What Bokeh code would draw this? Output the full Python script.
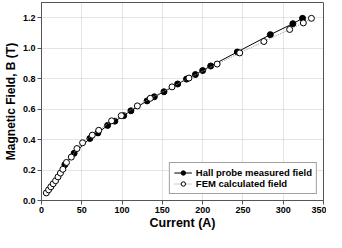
from bokeh.plotting import figure
from bokeh.models import Range1d, FixedTicker
from bokeh.embed import file_html
from bokeh.resources import INLINE

# Hall probe measured field
hall_current = [29, 40.5, 60, 70, 82, 91, 102, 111, 131, 140, 152, 169, 180, 191, 200, 210, 243, 284, 312, 324]
hall_field = [0.235, 0.31, 0.407, 0.444, 0.493, 0.521, 0.557, 0.589, 0.654, 0.681, 0.714, 0.765,
              0.797, 0.827, 0.853, 0.883, 0.975, 1.089, 1.161, 1.196]

# FEM calculated field
fem_current = [6, 8.8, 11.6, 14.5, 17.5, 20.5, 23.5, 26.5, 31, 37, 44, 51, 63, 71, 87, 99, 119, 135,
               162, 183, 218, 246, 276, 308, 325, 335]
fem_field = [0.05, 0.07, 0.09, 0.11, 0.13, 0.155, 0.18, 0.205, 0.25, 0.285, 0.341, 0.379, 0.429,
             0.461, 0.523, 0.557, 0.621, 0.671, 0.746, 0.804, 0.896, 0.969, 1.044, 1.123, 1.166, 1.196]

x_ticks = [0, 50, 100, 150, 200, 250, 300, 350]
y_ticks = [0.0, 0.2, 0.4, 0.6, 0.8, 1.0, 1.2]

FONT = "Liberation Sans"

p = figure(width=326, height=232, output_backend="svg", toolbar_location=None,
           x_range=Range1d(0, 350), y_range=Range1d(0, 1.3),
           min_border_left=30, min_border_right=3, min_border_top=2, min_border_bottom=30)

p.line(hall_current, hall_field, line_color="black", line_width=1, legend_label="Hall probe measured field")
p.scatter(hall_current, hall_field, size=6, fill_color="black", line_color="black",
          legend_label="Hall probe measured field")
p.line(fem_current, fem_field, line_color="#999999", line_width=1, line_dash="1 1",
       legend_label="FEM calculated field")
p.scatter(fem_current, fem_field, size=6, fill_color="white", line_color="black", line_width=1,
          legend_label="FEM calculated field")

p.xaxis.ticker = FixedTicker(ticks=x_ticks)
p.yaxis.ticker = FixedTicker(ticks=y_ticks)
p.yaxis.major_label_overrides = {t: f"{t:.1f}" for t in y_ticks}

for ax in (p.xaxis[0], p.yaxis[0]):
    ax.axis_line_color = "#555555"
    ax.major_tick_line_color = "#555555"
    ax.major_tick_in = 0
    ax.major_tick_out = 4
    ax.minor_tick_line_color = None
    ax.major_label_text_font = FONT
    ax.major_label_text_font_style = "bold"
    ax.major_label_text_font_size = "9px"
    ax.major_label_text_color = "black"
    ax.axis_label_text_font = FONT
    ax.axis_label_text_font_style = "bold"
    ax.axis_label_text_color = "black"

p.xaxis.major_label_standoff = 2
p.yaxis.major_label_standoff = 2

p.xaxis.axis_label = "Current (A)"
p.xaxis.axis_label_text_font_size = "12.5px"
p.xaxis.axis_label_standoff = 0

p.yaxis.axis_label = "Magnetic Field, B (T)"
p.yaxis.axis_label_text_font_size = "12px"
p.yaxis.axis_label_standoff = 2

p.outline_line_color = "#555555"
p.outline_line_width = 1

p.grid.grid_line_color = "#c8c8c8"
p.grid.grid_line_dash = "1 1"
p.grid.grid_line_width = 1

lg = p.legend[0]
lg.location = "bottom_right"
lg.margin = 6
lg.padding = 4
lg.spacing = 0
lg.label_text_font = FONT
lg.label_text_font_style = "bold"
lg.label_text_font_size = "9.5px"
lg.label_text_color = "black"
lg.label_height = 11
lg.label_standoff = 4
lg.glyph_height = 11
lg.glyph_width = 18
lg.border_line_color = "#444444"
lg.border_line_width = 1
lg.background_fill_alpha = 1.0

open("out.html", "w").write(file_html(p, INLINE))
